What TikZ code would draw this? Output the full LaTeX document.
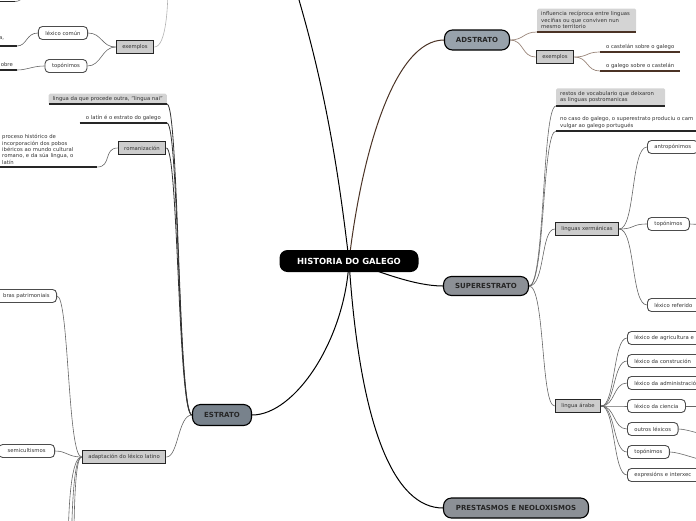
\documentclass[tikz,border=0pt]{standalone}
\usepackage{fontspec}
\setmainfont{DejaVu Sans}
\pgfdeclarelayer{bg}
\pgfsetlayers{bg,main}
\definecolor{adc}{HTML}{98A2AB}
\definecolor{supc}{HTML}{8C9096}
\definecolor{estc}{HTML}{78828C}
\definecolor{boxg}{HTML}{CCCCCC}
\definecolor{txtg}{HTML}{D4D4D4}
\definecolor{brn}{HTML}{4B3325}
\definecolor{lbrn}{HTML}{9A867A}
\definecolor{ink}{HTML}{333333}
\begin{document}
\begin{tikzpicture}[x=1pt,y=-1pt,
  font=\fontsize{5.3}{6.4}\selectfont, text=ink,
  mainbox/.style={draw=black, line width=1.1pt, rounded corners=8pt, font=\fontsize{7}{8}\selectfont\bfseries, text=black!85, inner sep=0pt},
  rectbox/.style={draw=black!85, line width=1.3pt, fill=boxg, inner xsep=6pt, inner ysep=0pt, minimum height=13pt},
  leaf/.style={draw=black!70, line width=0.9pt, fill=white, rounded corners=4pt, minimum height=13pt, inner xsep=7pt, inner ysep=0pt},
  cutleaf/.style={leaf, text width=75pt, align=left},
  utext/.style={inner xsep=3pt, inner ysep=2.5pt, align=left},
  gbox/.style={fill=txtg, rounded corners=1.5pt, inner xsep=4pt, inner ysep=3pt, align=left},
  ul/.style={line width=1.3pt, black!85},
  ulb/.style={line width=1.3pt, brn},
  conn/.style={draw=black!60, line width=0.6pt},
  connb/.style={draw=lbrn, line width=0.7pt},
  mainconn/.style={draw=black, line width=1pt}
]
\useasboundingbox (0,0) rectangle (696,520);
\clip (0,0) rectangle (696,520);

% ---------- main nodes ----------
\node[fill=black, rounded corners=8pt, text=white, font=\fontsize{8.4}{9}\selectfont\bfseries, minimum width=139pt, minimum height=22pt, inner sep=0pt] (root) at (349,261) {HISTORIA DO GALEGO};
\node[mainbox, fill=adc, minimum width=65pt, minimum height=20pt] (ad) at (477,40) {ADSTRATO};
\node[mainbox, fill=supc, minimum width=85pt, minimum height=19pt] (sup) at (486,286) {SUPERESTRATO};
\node[mainbox, fill=estc, minimum width=59pt, minimum height=21pt] (est) at (222,415) {ESTRATO};
\node[mainbox, fill=supc, minimum width=145pt, minimum height=20pt] (pre) at (516,508) {PRESTASMOS E NEOLOXISMOS};
\coordinate (topout) at (290,-30);

% ---------- ADSTRATO ----------
\node[gbox, anchor=south west, text width=91pt] (ad1) at (537,32) {influencia recíproca entre linguas veciñas ou que conviven nun mesmo territorio};
\node[rectbox] (adex) at (555,57) {exemplos};
\node[utext, anchor=south west, minimum width=80pt] (adex1) at (600,52) {o castelán sobre o galego};
\node[utext, anchor=south west, minimum width=80pt] (adex2) at (600,71) {o galego sobre o castelán};

% ---------- SUPERESTRATO ----------
\node[gbox, anchor=south west, text width=101pt] (su1) at (556,106) {restos de vocabulario que deixaron\\as linguas postromanicas};
\node[utext, anchor=south west, inner xsep=4pt] (su2) at (556,131) {no caso do galego, o superestrato produciu o cam\\vulgar ao galego portugués};
\node[rectbox] (xe) at (587,229) {linguas xermánicas};
\node[leaf, anchor=west] (xe1) at (647,147) {antropónimos};
\node[leaf, anchor=west] (xe2) at (647,224) {topónimos};
\node[cutleaf, anchor=west] (xe3) at (647,305) {léxico referido};
\coordinate (xe2out) at (710,225);
\node[rectbox] (ar) at (578,406) {lingua árabe};
\node[cutleaf, anchor=west] (ar1) at (627,338) {léxico de agricultura e};
\node[cutleaf, anchor=west] (ar2) at (627,361) {léxico da construción};
\node[cutleaf, anchor=west] (ar3) at (627,383) {léxico da administració};
\node[leaf, anchor=west] (ar4) at (627,406) {léxico da ciencia};
\node[leaf, anchor=west] (ar5) at (627,429) {outros léxicos};
\node[leaf, anchor=west] (ar6) at (627,452) {topónimos};
\node[cutleaf, anchor=west] (ar7) at (627,475) {expresións e interxec};
\coordinate (ar4out) at (710,406);
\coordinate (ar5out) at (710,435);
\coordinate (ar6out) at (710,461);

% ---------- ESTRATO ----------
\node[gbox, anchor=south east, inner ysep=2.5pt] (es1) at (167,104) {lingua da que procede outra, "lingua nai"};
\node[utext, anchor=south east, minimum width=87pt] (es2) at (167,123) {o latín é o estrato do galego};
\node[rectbox] (rom) at (142,148) {romanización};
\node[utext, anchor=south west, text width=93pt, inner xsep=2pt] (rom1) at (0,167) {proceso histórico de\\incorporación dos pobos\\ibéricos ao mundo cultural\\romano, e da súa lingua, o\\latín};
\node[rectbox] (adl) at (124,457) {adaptación do léxico latino};
\node[leaf, anchor=east, text width=64pt, align=right] (pal) at (57,296) {bras patrimoniais};
\node[leaf, anchor=east, inner xsep=9pt] (sem) at (55,451) {semicultismos};
\coordinate (adlo1) at (68,560);
\coordinate (adlo2) at (71,600);
\coordinate (adlo3) at (74,640);

% ---------- top-left fragment ----------
\node[rectbox] (tlex) at (135,47) {exemplos};
\node[leaf] (lc) at (63,33) {léxico común};
\node[leaf] (tp) at (66,66) {topónimos};
\node[anchor=west, inner sep=0pt] (tl1) at (-1,38) {a,};
\node[anchor=east, inner sep=0pt] (tl2) at (13,65) {obre};
\coordinate (tl1u) at (17,46);
\coordinate (tl2u) at (17,70);
\coordinate (tl1l) at (-5,46);
\coordinate (tl2l) at (-5,70);
\coordinate (tlexout) at (168,-15);
\coordinate (tl0) at (15,1.5);
\coordinate (tl0l) at (-5,1.5);
\coordinate (tl0out) at (30,-12);

% ---------- connectors ----------
\begin{pgfonlayer}{bg}
\draw[mainconn] (root.center) .. controls (335,140) and (318,60) .. (topout);
\draw[draw=brn, line width=1pt] (root.center) .. controls (362,150) and (395,40) .. (ad.west);
\draw[mainconn] (root.center) .. controls (380,272) and (415,286) .. (sup.west);
\draw[mainconn] (root.center) .. controls (345,340) and (295,415) .. (est.east);
\draw[mainconn] (root.center) .. controls (360,430) and (395,508) .. (pre.west);

\draw[connb] (ad.east) .. controls +(14,0) and +(-14,0) .. (ad1.south west);
\draw[connb] (ad.east) .. controls +(14,0) and +(-14,0) .. (adex.west);
\draw[connb] (adex.east) .. controls +(14,0) and +(-14,0) .. (adex1.south west);
\draw[connb] (adex.east) .. controls +(14,0) and +(-14,0) .. (adex2.south west);

\draw[conn] (sup.east) .. controls +(16,0) and +(-14,0) .. (su1.south west);
\draw[conn] (sup.east) .. controls +(16,0) and +(-14,0) .. (su2.south west);
\draw[conn] (sup.east) .. controls +(16,0) and +(-14,0) .. (xe.west);
\draw[conn] (sup.east) .. controls +(16,0) and +(-14,0) .. (ar.west);
\draw[conn] (xe.east) .. controls +(16,0) and +(-16,0) .. (xe1.west);
\draw[conn] (xe.east) .. controls +(16,0) and +(-16,0) .. (xe2.west);
\draw[conn] (xe.east) .. controls +(16,0) and +(-16,0) .. (xe3.west);
\draw[conn] (xe2.east) -- (xe2out);
\foreach \n in {ar1,ar2,ar3,ar4,ar5,ar6,ar7}
  \draw[conn] (ar.east) .. controls +(14,0) and +(-14,0) .. (\n.west);
\draw[conn] (ar4.east) -- (ar4out);
\draw[conn] (ar5.east) .. controls +(8,0) and +(-8,0) .. (ar5out);
\draw[conn] (ar6.east) .. controls +(10,0) and +(-10,0) .. (ar6out);

\draw[draw=black!80, line width=0.8pt] (est.west) .. controls +(-14,0) and +(12,0) .. (es1.south east);
\draw[draw=black!80, line width=0.8pt] (est.west) .. controls +(-14,0) and +(12,0) .. (es2.south east);
\draw[draw=black!80, line width=0.8pt] (est.west) .. controls +(-14,0) and +(12,0) .. (rom.east);
\draw[conn] (est.west) .. controls +(-14,0) and +(12,0) .. (adl.east);
\draw[conn] (rom.west) .. controls +(-14,0) and +(14,0) .. (rom1.south east);
\draw[conn] (adl.west) .. controls +(-14,0) and +(12,0) .. (pal.east);
\draw[conn] (adl.west) .. controls +(-14,0) and +(12,0) .. (sem.east);
\draw[conn] (adl.west) .. controls +(-10,0) and +(0,-60) .. (adlo1);
\draw[conn] (adl.west) .. controls +(-10,0) and +(0,-60) .. (adlo2);
\draw[conn] (adl.west) .. controls +(-10,0) and +(0,-60) .. (adlo3);

\draw[conn] (tlex.west) .. controls +(-14,0) and +(14,0) .. (lc.east);
\draw[conn] (tlex.west) .. controls +(-14,0) and +(14,0) .. (tp.east);
\draw[conn] (lc.west) .. controls +(-12,0) and +(10,0) .. (tl1u);
\draw[conn] (tp.west) .. controls +(-12,0) and +(10,0) .. (tl2u);
\draw[draw=black!30, line width=0.6pt] (tlex.east) .. controls +(12,0) and +(0,20) .. (tlexout);
\draw[conn] (tl0) .. controls +(8,0) and +(-4,4) .. (tl0out);
\end{pgfonlayer}

% ---------- underlines ----------
\draw[ulb] (ad1.south west) -- (ad1.south east);
\draw[ulb] (adex1.south west) -- (adex1.south east);
\draw[ulb] (adex2.south west) -- (adex2.south east);
\draw[ul] (su1.south west) -- (su1.south east);
\draw[ul] (su2.south west) -- ++(160,0);
\draw[ul] (es1.south west) -- (es1.south east);
\draw[ul] (es2.south west) -- (es2.south east);
\draw[ul] (rom1.south west) -- ++(97,0);
\draw[ul] (tl1l) -- (tl1u);
\draw[ul] (tl2l) -- (tl2u);
\draw[ul] (tl0l) -- (tl0);
\end{tikzpicture}
\end{document}
